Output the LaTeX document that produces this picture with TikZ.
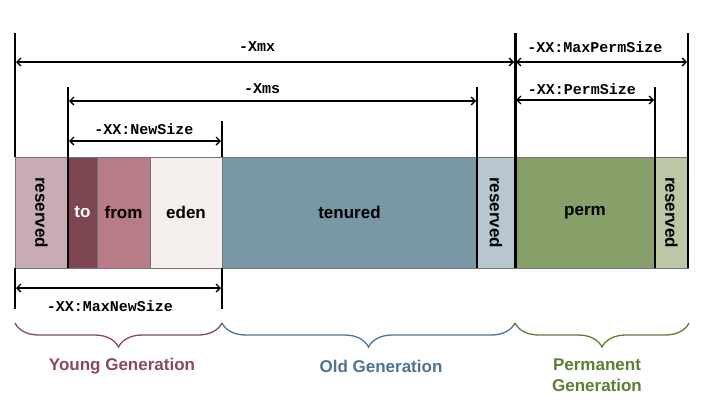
\documentclass[tikz,border=0pt]{standalone}
\usepackage{fontspec}
\setmainfont{Liberation Sans}
\setmonofont{Liberation Mono}
\usepackage{graphicx}
\usepackage{tikz}
\usetikzlibrary{positioning, arrows.meta, decorations.pathreplacing}
\usepackage{xcolor}
\definecolor{youngres}{HTML}{C9ABB3}
\definecolor{tocol}{HTML}{7E4651}
\definecolor{fromcol}{HTML}{B87C86}
\definecolor{edencol}{HTML}{F4EEED}
\definecolor{tenuredcol}{HTML}{7A97A5}
\definecolor{oldres}{HTML}{B8C7CF}
\definecolor{permcol}{HTML}{879F69}
\definecolor{permres}{HTML}{BCC7A5}
\definecolor{youngtxt}{HTML}{8A4A57}
\definecolor{oldtxt}{HTML}{4F7390}
\definecolor{permtxt}{HTML}{5E7F32}

\begin{document}
\begin{tikzpicture}[
    x=1pt, y=-1pt,
    node distance=0pt,
    segment/.style={rectangle, draw=black!55, line width=1pt, minimum height=111pt, inner sep=0pt, outer sep=0pt, font=\fontsize{17}{20}\selectfont\bfseries},
    extline/.style={line width=2pt, black},
    dimline/.style={{Straight Barb[length=4pt,width=8pt]}-{Straight Barb[length=4pt,width=8pt]}, line width=1.3pt, shorten <=1pt, shorten >=1pt},
    flag/.style={font=\ttfamily\bfseries\fontsize{15}{18}\selectfont, inner sep=1pt},
    genbrace/.style={decorate, decoration={brace, mirror, amplitude=24pt}, line width=1.3pt},
    genlabel/.style={font=\fontsize{17}{21}\selectfont\bfseries, align=center}
]
    \useasboundingbox[fill=white] (0,0) rectangle (709,408);

    \node[segment, minimum width=53pt, fill=youngres, anchor=north west] (res1) at (15,157) {\rotatebox{-90}{reserved}};
    \node[segment, minimum width=29pt, fill=tocol, text=white, right=of res1] (to) {to};
    \node[segment, minimum width=53pt, fill=fromcol, right=of to] (from) {from};
    \node[segment, minimum width=72pt, fill=edencol, right=of from] (eden) {eden};
    \node[segment, minimum width=255pt, fill=tenuredcol, right=of eden] (tenured) {tenured};
    \node[segment, minimum width=38pt, fill=oldres, right=of tenured] (res2) {\rotatebox{-90}{reserved}};
    \node[segment, minimum width=140pt, fill=permcol, right=of res2] (perm) {perm};
    \node[segment, minimum width=33pt, fill=permres, right=of perm] (res3) {\rotatebox{-90}{reserved}};

    \coordinate (xmxTop) at (15,33);
    \coordinate (xmsTop) at (68,87);
    \coordinate (newTop) at (222,121);
    \coordinate (xmsEnd) at (477,87);
    \coordinate (permTop) at (515,33);
    \coordinate (permEnd) at (655,87);
    \coordinate (maxpermEnd) at (688,33);
    \coordinate (maxnewL) at (15,309);
    \coordinate (maxnewR) at (222,309);

    \draw[extline] (xmxTop) -- (res1.north west);
    \draw[extline] (res1.south west) -- (maxnewL);
    \draw[extline] (xmsTop) -- (to.south west);
    \draw[extline] (newTop) -- (tenured.north west);
    \draw[extline] (tenured.south west) -- (maxnewR);
    \draw[extline] (xmsEnd) -- (res2.south west);
    \draw[extline, line width=3pt] (permTop) -- (perm.south west);
    \draw[extline] (permEnd) -- (res3.south west);
    \draw[extline, line width=2.5pt] (maxpermEnd) -- (res3.south east);

    \coordinate (xmxA) at (15,62);
    \coordinate (xmxB) at (515,62);
    \coordinate (mpB) at (688,62);
    \coordinate (xmsA) at (68,101);
    \coordinate (xmsB) at (477,101);
    \coordinate (psA) at (515,100);
    \coordinate (psB) at (655,100);
    \coordinate (nsA) at (68,141);
    \coordinate (nsB) at (222,141);
    \coordinate (mnA) at (15,288);
    \coordinate (mnB) at (222,288);

    \draw[dimline] (xmxA) -- (xmxB);
    \draw[dimline] (xmxB) -- (mpB);
    \draw[dimline] (xmsA) -- (xmsB);
    \draw[dimline] (psA) -- (psB);
    \draw[dimline] (nsA) -- (nsB);
    \draw[dimline] (mnA) -- (mnB);

    \node[flag] (xmx) at (257,47) {-Xmx};
    \node[flag] (maxperm) at (595,47) {-XX:MaxPermSize};
    \node[flag] (xms) at (262,89) {-Xms};
    \node[flag] (permsize) at (582,89) {-XX:PermSize};
    \node[flag] (newsize) at (144,129) {-XX:NewSize};
    \node[flag] (maxnew) at (110,306) {-XX:MaxNewSize};

    \coordinate (ygL) at (15,323);
    \coordinate (ygR) at (222,323);
    \coordinate (ogR) at (515,323);
    \coordinate (pgR) at (689,323);

    \draw[genbrace, youngtxt] (ygL) -- (ygR);
    \draw[genbrace, oldtxt] (ygR) -- (ogR);
    \draw[genbrace, permtxt] (ogR) -- (pgR);

    \node[genlabel, text=youngtxt] (young) at (122,366) {Young Generation};
    \node[genlabel, text=oldtxt] (old) at (381,366) {Old Generation};
    \node[genlabel, text=permtxt] (permgen) at (597,375) {Permanent\\Generation};
\end{tikzpicture}
\end{document}
